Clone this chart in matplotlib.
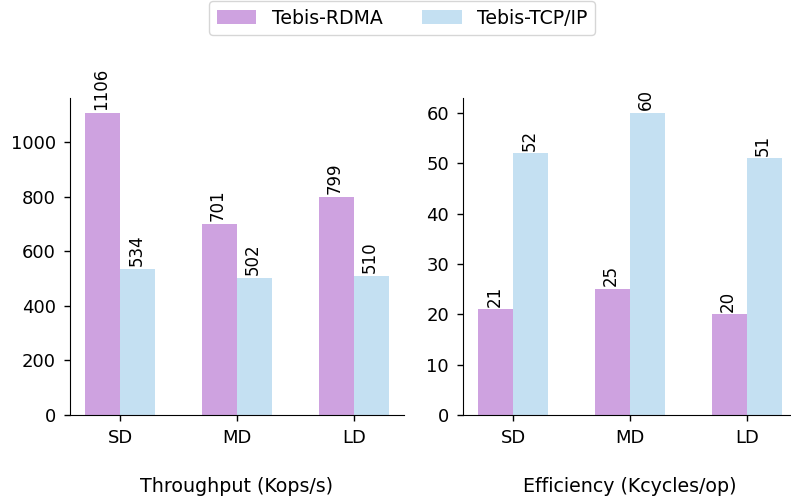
import matplotlib
matplotlib.use("Agg")
import matplotlib.pyplot as plt
import numpy as np

# data
workloads = ["SD", "MD", "LD"]
series_names = ["Tebis-RDMA", "Tebis-TCP/IP"]
throughput_rdma = [1106, 701, 799]
throughput_tcp = [534, 502, 510]
efficiency_rdma = [21, 25, 20]
efficiency_tcp = [52, 60, 51]

colors = ["#cea2e0", "#c4e0f2"]
width = 0.3

W, H = 791, 504
fig = plt.figure(figsize=(W / 100, H / 100), dpi=100)
ax1 = fig.add_axes([70 / W, 89 / H, 334 / W, 317 / H])
ax2 = fig.add_axes([463 / W, 89 / H, 334 / W, 317 / H])


def draw_panel(ax, rdma, tcp, xlabel):
    ind = np.arange(len(workloads))
    b1 = ax.bar(ind - width / 2, rdma, width, color=colors[0], label=series_names[0])
    b2 = ax.bar(ind + width / 2, tcp, width, color=colors[1], label=series_names[1])
    for bars in (b1, b2):
        for rect in bars:
            ax.annotate(f"{rect.get_height():.0f}",
                        (rect.get_x() + rect.get_width() / 2, rect.get_height()),
                        xytext=(-1, 2), textcoords="offset points",
                        ha="center", va="bottom", rotation=90, fontsize=12)
    ax.set_xticks(ind)
    ax.set_xticklabels(workloads)
    ax.tick_params(labelsize=13, length=4.5, width=1, pad=5.5)
    ax.set_xlabel(xlabel, fontsize=13.7, labelpad=22)
    ax.spines["top"].set_visible(False)
    ax.spines["right"].set_visible(False)
    return b1, b2


h = draw_panel(ax1, throughput_rdma, throughput_tcp, "Throughput (Kops/s)")
draw_panel(ax2, efficiency_rdma, efficiency_tcp, "Efficiency (Kcycles/op)")
ax2.set_yticks([0, 10, 20, 30, 40, 50, 60])

fig.legend(h, series_names, loc="upper center", ncol=2, fontsize=13.6,
           bbox_to_anchor=(402 / W, 1.0), columnspacing=2.1, handlelength=2.1,
           borderaxespad=0.05)

plt.savefig("out.png", dpi=100)
